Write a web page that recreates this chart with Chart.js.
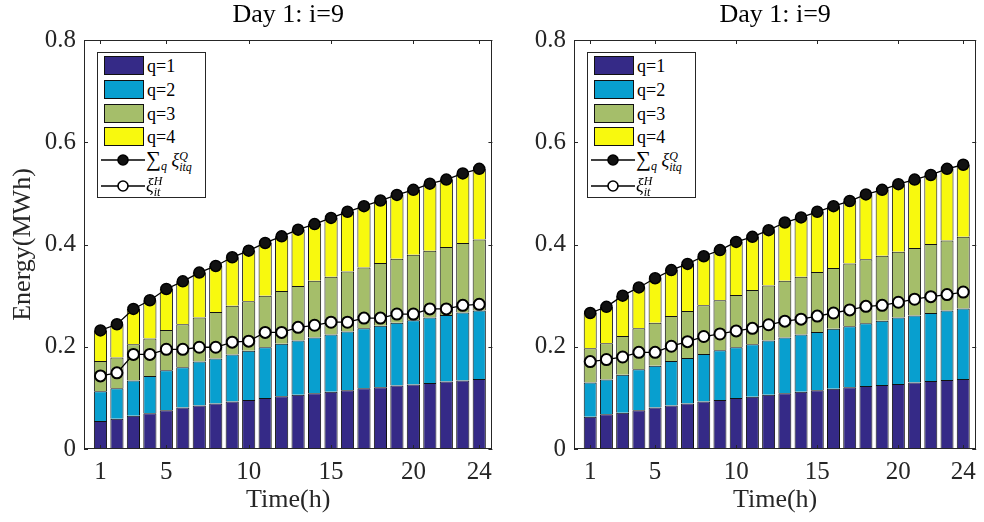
<!DOCTYPE html>
<html>
<head>
<meta charset="utf-8">
<script src="https://cdn.jsdelivr.net/npm/chart.js@4.4.1/dist/chart.umd.min.js"></script>
<style>
  body { margin: 0; background: #fff; }
  #wrap { position: relative; width: 984px; height: 522px; overflow: hidden; font-family: "Liberation Serif", serif; }
  canvas { position: absolute; top: 0; }
  .legend { position: absolute; top: 52px; width: 107px; height: 144px; border: 1px solid #262626; background: #fff; color: #000; }
  .sw { position: absolute; left: 6px; width: 38px; height: 17px; border: 1px solid #111; }
  .lt { position: absolute; left: 49px; font-size: 18px; line-height: 20px; white-space: nowrap; }
  .ls { position: absolute; left: 3px; width: 44px; height: 14px; }
  .big { font-size: 21px; }
  .ss { display: inline-block; vertical-align: middle; font-size: 12px; line-height: 11px; font-style: italic; text-align: left; }
  .ss span { display: block; }
  i { font-style: italic; }
</style>
</head>
<body>
<div id="wrap">
  <canvas id="left" width="500" height="522" style="left:0"></canvas>
  <canvas id="right" width="494" height="522" style="left:490px"></canvas>
</div>
<script>
// hours on the x axis
const hours = [1, 2, 3, 4, 5, 6, 7, 8, 9, 10, 11, 12, 13, 14, 15, 16, 17, 18, 19, 20, 21, 22, 23, 24];
const xTickVals = [1, 5, 10, 15, 20, 24];
const seriesNames = ['q=1', 'q=2', 'q=3', 'q=4'];
const barColors = ['#352a87', '#089fcf', '#a5be6a', '#f8f90e'];
const panelTitle = 'Day 1: i=9';

// left panel
const leftQ1 = [0.055, 0.059, 0.065, 0.070, 0.076, 0.081, 0.085, 0.089, 0.093, 0.096, 0.100, 0.103, 0.106, 0.109, 0.112, 0.115, 0.119, 0.121, 0.124, 0.126, 0.129, 0.132, 0.134, 0.137];
const leftQ2 = [0.058, 0.060, 0.069, 0.073, 0.078, 0.079, 0.086, 0.088, 0.092, 0.096, 0.099, 0.103, 0.106, 0.109, 0.112, 0.115, 0.117, 0.120, 0.123, 0.126, 0.128, 0.130, 0.133, 0.134];
const leftQ3 = [0.059, 0.060, 0.071, 0.073, 0.079, 0.084, 0.086, 0.091, 0.095, 0.097, 0.101, 0.103, 0.107, 0.111, 0.113, 0.117, 0.119, 0.123, 0.125, 0.128, 0.131, 0.133, 0.136, 0.139];
const leftQ4 = [0.060, 0.065, 0.069, 0.075, 0.080, 0.084, 0.088, 0.090, 0.095, 0.099, 0.103, 0.107, 0.110, 0.111, 0.115, 0.117, 0.120, 0.122, 0.125, 0.127, 0.131, 0.132, 0.136, 0.138];
const leftSum = [0.232, 0.244, 0.274, 0.291, 0.313, 0.328, 0.345, 0.358, 0.375, 0.388, 0.403, 0.416, 0.429, 0.440, 0.452, 0.464, 0.475, 0.486, 0.497, 0.507, 0.519, 0.527, 0.539, 0.548];
const leftXiH = [0.143, 0.149, 0.185, 0.185, 0.195, 0.195, 0.199, 0.199, 0.209, 0.211, 0.228, 0.228, 0.238, 0.242, 0.248, 0.248, 0.256, 0.256, 0.264, 0.264, 0.274, 0.274, 0.281, 0.283];

// right panel
const rightQ1 = [0.063, 0.068, 0.071, 0.076, 0.081, 0.085, 0.089, 0.093, 0.096, 0.100, 0.102, 0.106, 0.109, 0.112, 0.115, 0.118, 0.121, 0.123, 0.125, 0.127, 0.130, 0.133, 0.135, 0.137];
const rightQ2 = [0.067, 0.068, 0.074, 0.080, 0.082, 0.087, 0.089, 0.093, 0.097, 0.099, 0.103, 0.106, 0.109, 0.112, 0.114, 0.117, 0.119, 0.123, 0.126, 0.130, 0.131, 0.133, 0.136, 0.138];
const rightQ3 = [0.067, 0.071, 0.076, 0.080, 0.084, 0.088, 0.092, 0.095, 0.098, 0.102, 0.106, 0.108, 0.111, 0.113, 0.117, 0.119, 0.123, 0.125, 0.127, 0.129, 0.132, 0.135, 0.137, 0.140];
const rightQ4 = [0.069, 0.071, 0.079, 0.080, 0.087, 0.090, 0.092, 0.096, 0.098, 0.104, 0.104, 0.108, 0.114, 0.116, 0.118, 0.121, 0.122, 0.127, 0.129, 0.132, 0.134, 0.135, 0.140, 0.141];
const rightSum = [0.266, 0.278, 0.300, 0.316, 0.334, 0.350, 0.362, 0.377, 0.389, 0.405, 0.415, 0.428, 0.443, 0.453, 0.464, 0.475, 0.485, 0.498, 0.507, 0.518, 0.527, 0.536, 0.548, 0.556];
const rightXiH = [0.171, 0.175, 0.180, 0.189, 0.189, 0.201, 0.210, 0.220, 0.225, 0.231, 0.236, 0.243, 0.250, 0.254, 0.260, 0.266, 0.272, 0.279, 0.281, 0.287, 0.293, 0.298, 0.302, 0.307];

const FONT = '"Liberation Serif", "Times New Roman", serif';

const pts = arr => arr.map((v, i) => ({x: hours[i], y: v}));

// matlab style box with inward ticks
const framePlugin = {
    id: 'frame',
    afterDraw(chart) {
        const {ctx, chartArea: a, scales} = chart;
        const x = scales.x, y = scales.y;
        ctx.save();
        ctx.strokeStyle = '#262626';
        ctx.lineWidth = 1;
        ctx.strokeRect(Math.round(a.left) + 0.5, Math.round(a.top) + 0.5, Math.round(a.width) - 1, Math.round(a.height) - 1);
        ctx.beginPath();
        xTickVals.forEach(v => {
            const px = Math.round(x.getPixelForValue(v)) + 0.5;
            ctx.moveTo(px, a.bottom); ctx.lineTo(px, a.bottom - 4);
            ctx.moveTo(px, a.top); ctx.lineTo(px, a.top + 4);
        });
        y.ticks.forEach(t => {
            const py = Math.round(y.getPixelForValue(t.value)) + 0.5;
            ctx.moveTo(a.left, py); ctx.lineTo(a.left + 4, py);
            ctx.moveTo(a.right, py); ctx.lineTo(a.right - 4, py);
        });
        ctx.stroke();
        ctx.restore();
    }
};

function makePanel(id, qs, sum, xiH, showYTitle, padRight) {
    const datasets = [];
    datasets.push({
        type: 'line', label: 'sum', data: pts(sum), stack: 'l1', order: 0,
        borderColor: '#000', borderWidth: 1.3, pointRadius: 5.5, pointBorderWidth: 1.5,
        pointBackgroundColor: '#111', pointBorderColor: '#000'
    });
    datasets.push({
        type: 'line', label: 'xiH', data: pts(xiH), stack: 'l2', order: 0,
        borderColor: '#000', borderWidth: 1.3, pointRadius: 5.5, pointBorderWidth: 2,
        pointBackgroundColor: '#fff', pointBorderColor: '#000'
    });
    qs.forEach((q, k) => {
        datasets.push({
            type: 'bar', label: seriesNames[k], data: pts(q), stack: 'bars', order: 1,
            backgroundColor: barColors[k], borderColor: '#111', borderWidth: 1,
            barPercentage: 0.8, categoryPercentage: 1
        });
    });

    return new Chart(document.getElementById(id), {
        data: {datasets: datasets},
        options: {
            responsive: false,
            animation: false,
            devicePixelRatio: 1,
            layout: {padding: {left: 0, right: padRight, top: 0, bottom: 0}},
            plugins: {
                legend: {display: false},
                tooltip: {enabled: false},
                title: {
                    display: true, text: panelTitle, fullSize: false, color: '#000',
                    font: {family: FONT, size: 26, weight: 'normal'},
                    padding: {top: 0, bottom: 8.8}
                }
            },
            scales: {
                x: {
                    type: 'linear', min: 0, max: 24.8, offset: false, stacked: true,
                    afterBuildTicks: s => { s.ticks = xTickVals.map(v => ({value: v})); },
                    afterFit: s => { s.height = 73; },
                    grid: {display: false, drawTicks: false},
                    border: {display: false},
                    ticks: {color: '#262626', font: {family: FONT, size: 25}, padding: 8, autoSkip: false, maxRotation: 0},
                    title: {display: true, text: 'Time(h)', color: '#262626', font: {family: FONT, size: 26}, padding: {top: 0, bottom: 6}}
                },
                y: {
                    min: 0, max: 0.8, stacked: true,
                    afterFit: s => { s.width = 84; },
                    grid: {display: false, drawTicks: false},
                    border: {display: false},
                    ticks: {stepSize: 0.2, color: '#262626', font: {family: FONT, size: 25}, padding: 8,
                        callback: v => String(Math.round(v * 10) / 10)},
                    title: {display: showYTitle, text: 'Energy(MWh)', color: '#262626', font: {family: FONT, size: 26}, padding: {top: 7.4, bottom: 0}}
                }
            }
        },
        plugins: [framePlugin]
    });
}

makePanel('left', [leftQ1, leftQ2, leftQ3, leftQ4], leftSum, leftXiH, true, 7);
makePanel('right', [rightQ1, rightQ2, rightQ3, rightQ4], rightSum, rightXiH, false, 1);

// legend boxes (html, so sub/superscripts stay real text)
function lineSample(fill) {
    return '<svg class="ls" viewBox="0 0 44 14"><line x1="0" y1="7" x2="44" y2="7" stroke="#000" stroke-width="1.3"/>' +
        '<circle cx="22" cy="7" r="5" fill="' + fill + '" stroke="#000" stroke-width="1.6"/></svg>';
}
function makeLegend(left) {
    const box = document.createElement('div');
    box.className = 'legend';
    box.style.left = left + 'px';
    const tops = [3, 27, 51, 74];
    let html = '';
    seriesNames.forEach((n, k) => {
        html += '<div class="sw" style="top:' + tops[k] + 'px;background:' + barColors[k] + '"></div>';
        html += '<div class="lt" style="top:' + (tops[k] - 0.5) + 'px">' + n + '</div>';
    });
    html += '<div style="position:absolute;top:100px;left:0">' + lineSample('#111') + '</div>';
    html += '<div class="lt" style="top:96px;left:48px"><span class="big">&sum;</span><span class="ss" style="margin-top:10px"><span>q</span></span>' +
        ' <i>&xi;</i><span class="ss"><span>Q</span><span>itq</span></span></div>';
    html += '<div style="position:absolute;top:126px;left:0">' + lineSample('#fff') + '</div>';
    html += '<div class="lt" style="top:122px;left:48px"><i>&xi;</i><span class="ss"><span>H</span><span>it</span></span></div>';
    box.innerHTML = html;
    document.getElementById('wrap').appendChild(box);
}
makeLegend(97);
makeLegend(587);
</script>
</body>
</html>
